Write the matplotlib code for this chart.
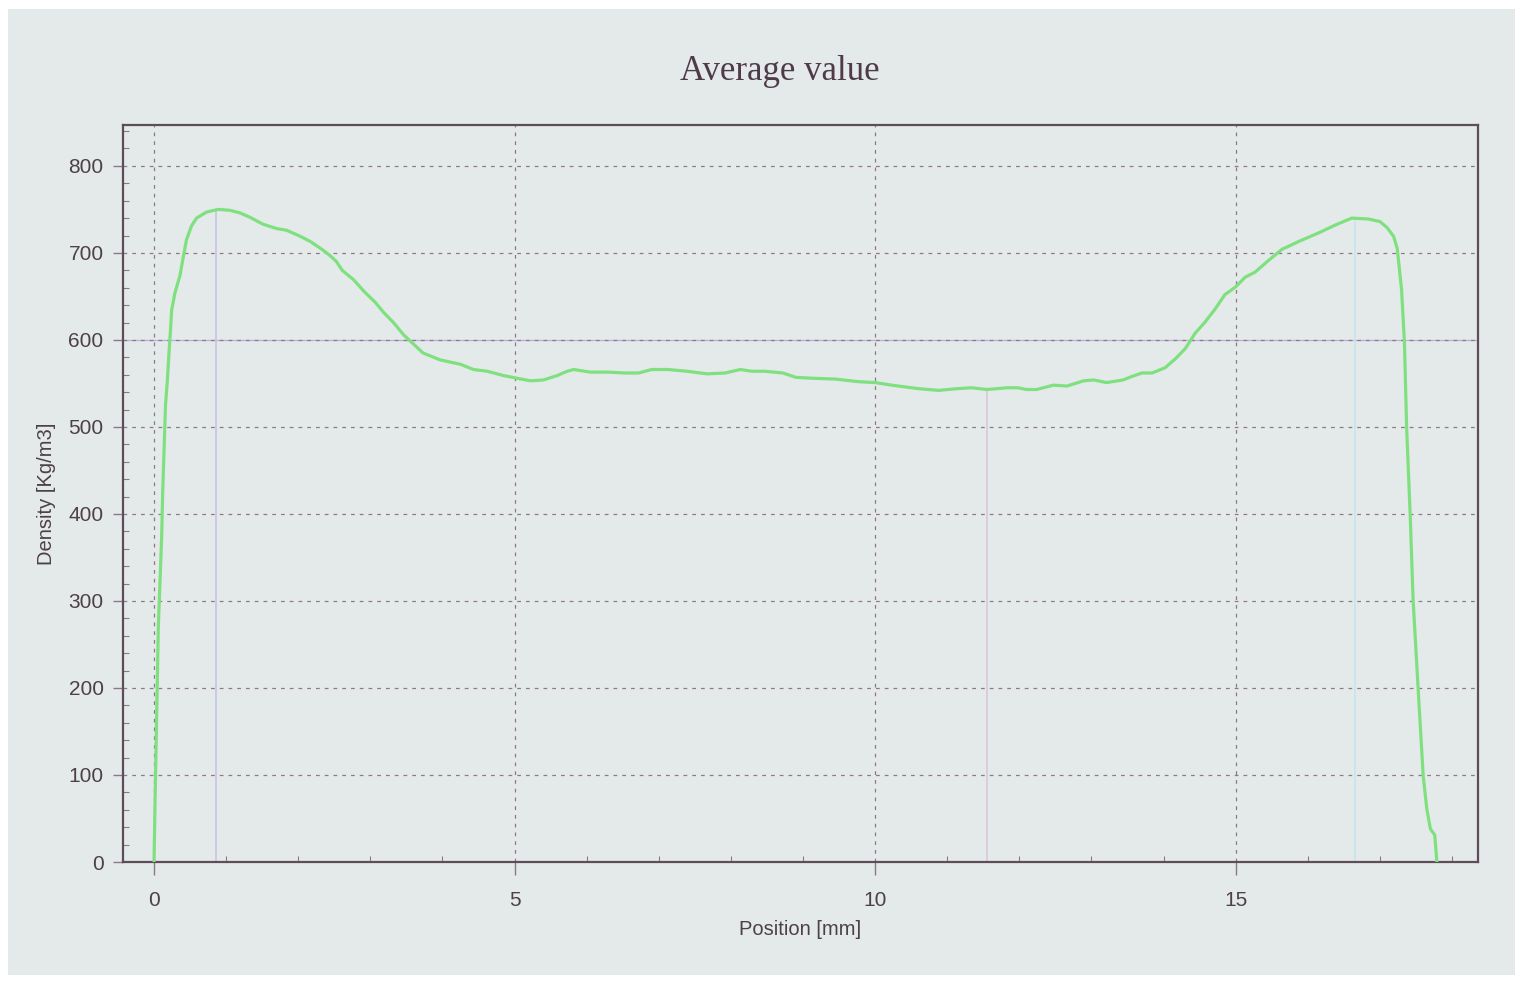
import matplotlib
matplotlib.use("Agg")
import matplotlib.pyplot as plt
from matplotlib.patches import Rectangle
from matplotlib.ticker import MultipleLocator

# density profile
position = [0.0, 0.014, 0.037, 0.06, 0.083, 0.106, 0.12, 0.14, 0.16, 0.184, 0.21, 0.23, 0.244, 0.29, 0.36,
            0.405, 0.45, 0.52, 0.59, 0.73, 0.89, 1.05, 1.19, 1.33, 1.51, 1.70, 1.84, 2.03, 2.17, 2.33,
            2.44, 2.53, 2.61, 2.77, 2.91, 3.07, 3.18, 3.32, 3.46, 3.55, 3.73, 3.97, 4.25, 4.43, 4.62,
            4.85, 5.03, 5.22, 5.40, 5.59, 5.73, 5.82, 6.05, 6.30, 6.53, 6.72, 6.90, 7.13, 7.39, 7.67,
            7.92, 8.13, 8.29, 8.47, 8.72, 8.90, 9.12, 9.45, 9.77, 10.0, 10.23, 10.60, 10.88, 11.14, 11.34,
            11.55, 11.83, 11.98, 12.10, 12.24, 12.47, 12.66, 12.89, 13.03, 13.21, 13.44, 13.56, 13.70, 13.84, 14.02,
            14.16, 14.30, 14.44, 14.57, 14.71, 14.85, 15.0, 15.13, 15.27, 15.45, 15.64, 15.87, 16.15, 16.38, 16.61,
            16.84, 17.00, 17.10, 17.19, 17.24, 17.30, 17.34, 17.37, 17.42, 17.46, 17.53, 17.60, 17.65, 17.70, 17.76,
            17.79]
density = [0, 66, 169, 271, 322, 373, 424, 475, 526, 552, 588, 613, 634, 654, 674,
           695, 715, 731, 740, 747, 750, 749, 746, 741, 733, 728, 726, 719, 713, 704,
           697, 690, 680, 669, 656, 643, 632, 620, 606, 599, 585, 577, 572, 566, 564,
           559, 556, 553, 554, 559, 564, 566, 563, 563, 562, 562, 566, 566, 564, 561,
           562, 566, 564, 564, 562, 557, 556, 555, 552, 551, 548, 544, 542, 544, 545,
           543, 545, 545, 543, 543, 548, 547, 553, 554, 551, 554, 558, 562, 562, 568,
           578, 590, 608, 620, 635, 652, 661, 672, 678, 691, 704, 713, 723, 732, 740,
           739, 736, 729, 719, 705, 658, 597, 500, 398, 301, 199, 99, 61, 38, 31,
           0]

# cursor lines (position, value at curve)
cursor_x = [0.86, 11.55, 16.66]
cursor_y = [750, 543, 740]
cursor_colors = ["#c9c3e3", "#dcc6dc", "#c4e6ef"]

paper = "#e4eae9"
ink = "#4d4049"
gridc = "#8d7884"

fig = plt.figure(figsize=(15.29, 9.81), dpi=100)
fig.patch.set_facecolor("white")
fig.patches.append(Rectangle((8 / 1529, 6 / 981), 1507 / 1529, 966 / 981, transform=fig.transFigure,
                             facecolor=paper, edgecolor="none", zorder=-10))

ax = fig.add_axes([123 / 1529, 1 - 862 / 981, (1478 - 123) / 1529, (862 - 125) / 981])
ax.set_zorder(5)
ax.set_facecolor(paper)

ax.set_xlim(-0.43, 18.36)
ax.set_ylim(0, 847)

ax.xaxis.set_major_locator(MultipleLocator(5))
ax.xaxis.set_minor_locator(MultipleLocator(1))
ax.yaxis.set_major_locator(MultipleLocator(100))
ax.yaxis.set_minor_locator(MultipleLocator(20))

ax.grid(True, which="major", linestyle=(0, (3, 4)), color=gridc, linewidth=0.9)
ax.axhline(600, color="#b9ace0", linewidth=0.9, zorder=1)

for cx, cy, cc in zip(cursor_x, cursor_y, cursor_colors):
    ax.vlines(cx, 0, cy, color=cc, linewidth=1.2, zorder=1)

ax.plot(position, density, color="#7fe07f", linewidth=2.3, zorder=3)

for s in ax.spines.values():
    s.set_color("#5e4c58")
    s.set_linewidth(1.6)

ax.tick_params(axis="x", which="major", direction="out", length=9, width=1, color=gridc,
               pad=12, labelsize=15, labelcolor=ink)
ax.tick_params(axis="y", which="major", direction="out", length=7, width=1, color=gridc,
               pad=7, labelsize=15, labelcolor=ink)
ax.tick_params(which="minor", direction="in", length=4, width=0.8, color=gridc)

for lab in ax.get_xticklabels() + ax.get_yticklabels():
    lab.set_family("Liberation Sans")

ax.set_xlabel("Position [mm]", fontsize=14.5, color=ink, family="Liberation Sans", labelpad=7)
ax.set_ylabel("Density [Kg/m3]", fontsize=14.5, color=ink, family="Liberation Sans", labelpad=9)

fig.text(780 / 1529, 1 - 72 / 981, "Average value", ha="center", va="center",
         fontsize=25, color="#4f3a4a", family="Liberation Serif")

fig.savefig("out.png", dpi=100)
